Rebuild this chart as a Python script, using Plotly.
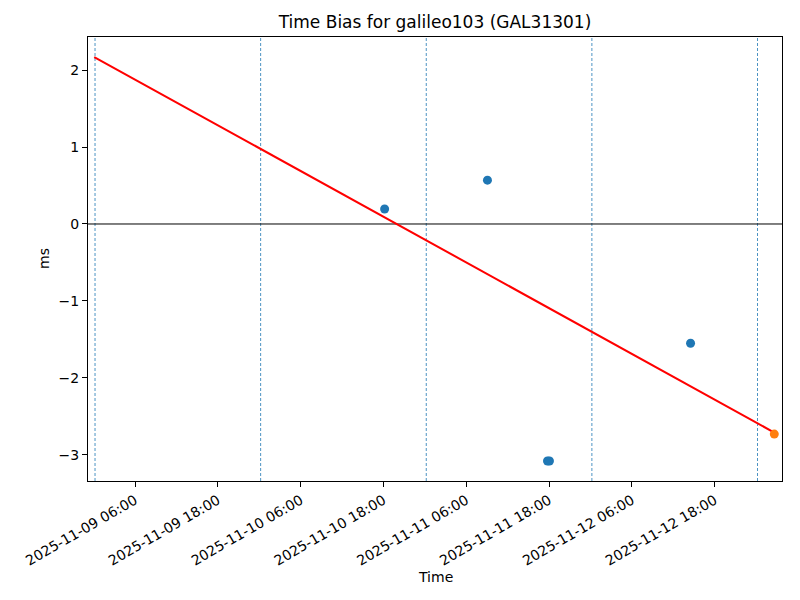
import plotly.graph_objects as go

# --- data ---
obs_times = ["2025-11-10 18:10", "2025-11-11 09:04", "2025-11-11 17:46",
             "2025-11-11 18:03", "2025-11-12 14:30"]
obs_bias_ms = [0.195, 0.57, -3.08, -3.08, -1.55]

latest_time = ["2025-11-13 02:38"]
latest_bias_ms = [-2.73]

fit_times = ["2025-11-09 00:05", "2025-11-13 02:38"]
fit_bias_ms = [2.17, -2.71]

day_marks = ["2025-11-09 00:12", "2025-11-10 00:12", "2025-11-11 00:12",
             "2025-11-12 00:12", "2025-11-13 00:12"]

tick_times = ["2025-11-09 06:00", "2025-11-09 18:00", "2025-11-10 06:00",
              "2025-11-10 18:00", "2025-11-11 06:00", "2025-11-11 18:00",
              "2025-11-12 06:00", "2025-11-12 18:00"]
y_ticks = [-3, -2, -1, 0, 1, 2]

x_range = ["2025-11-08 23:11", "2025-11-13 03:45"]
y_range = [-3.34, 2.43]

font = "DejaVu Sans, sans-serif"

# page body has an 8px margin, so the figure is drawn 8px smaller
W, H = 792, 592

fig = go.Figure()

fig.add_trace(go.Scatter(
    x=fit_times, y=fit_bias_ms, mode="lines",
    line=dict(color="red", width=2), showlegend=False,
))
fig.add_trace(go.Scatter(
    x=obs_times, y=obs_bias_ms, mode="markers",
    marker=dict(color="#1f77b4", size=9), showlegend=False,
))
fig.add_trace(go.Scatter(
    x=latest_time, y=latest_bias_ms, mode="markers",
    marker=dict(color="#ff7f0e", size=9), showlegend=False,
))

for d in day_marks:
    fig.add_vline(x=d, line=dict(color="#1f77b4", width=0.8, dash="3px,2px"), layer="below")
fig.add_hline(y=0, line=dict(color="black", width=1), layer="below")

axis_common = dict(
    showline=True, linecolor="black", linewidth=1, mirror=True,
    ticks="outside", ticklen=5, tickwidth=1, tickcolor="black",
    showgrid=False, zeroline=False, automargin=False,
    tickfont=dict(family=font, size=14, color="black"),
)

fig.update_xaxes(
    type="date", range=x_range, tickvals=tick_times,
    tickformat="%Y-%m-%d %H:%M", tickangle=-30, **axis_common,
)
fig.update_yaxes(
    range=y_range, tickvals=y_ticks,
    ticktext=["\u22123", "\u22122", "\u22121", "0", "1", "2"], **axis_common,
)

fig.update_layout(
    width=W, height=H,
    paper_bgcolor="white", plot_bgcolor="white",
    margin=dict(l=80, r=18, t=29, b=119),
    title=dict(text="Time Bias for galileo103 (GAL31301)", x=0.5, xref="paper",
               y=1 - 14 / H, yref="container", yanchor="middle",
               font=dict(family=font, size=17, color="black")),
    font=dict(family=font, color="black"),
    annotations=[
        dict(text="Time", x=0.5, xref="paper", y=(481 - 577) / 444, yref="paper",
             yanchor="middle", showarrow=False, font=dict(family=font, size=14)),
        dict(text="ms", x=(44 - 88) / 694, xref="paper", y=0.5, yref="paper",
             xanchor="center", yanchor="middle", textangle=-90, showarrow=False,
             font=dict(family=font, size=14)),
    ],
)

fig.write_html("out.html")
